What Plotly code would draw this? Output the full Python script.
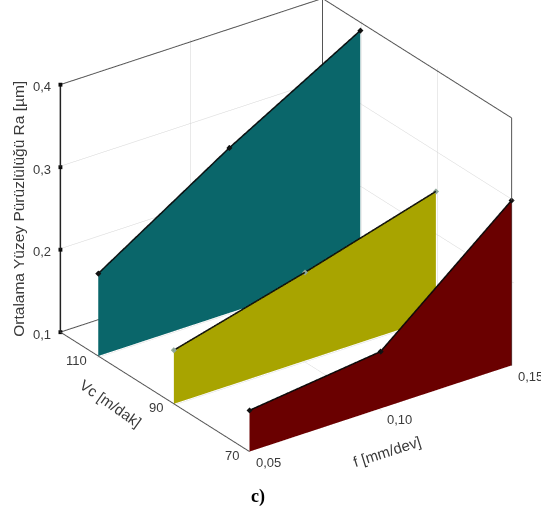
import plotly.graph_objects as go

f_vals = [0.05, 0.10, 0.15]
vc_vals = [110, 90, 70]
ra_110 = [0.20, 0.30, 0.39]
ra_90 = [0.165, 0.207, 0.253]
ra_70 = [0.15, 0.169, 0.30]
series_ra = [ra_110, ra_90, ra_70]
colors = ["#0a666a", "#a8a400", "#6a0000"]
marker_colors = ["#111111", "#8fa89a", "#111111"]

f_range = [0.05, 0.15]
vc_range = [70, 120]
ra_range = [0.1, 0.4]
f_ticks = [0.05, 0.10, 0.15]
f_ticktext = ["0,05", "0,10", "0,15"]
vc_ticks = [70, 90, 110]
vc_ticktext = ["70", "90", "110"]
ra_ticks = [0.1, 0.2, 0.3, 0.4]
ra_ticktext = ["0,1", "0,2", "0,3", "0,4"]
f_title = "f [mm/dev]"
vc_title = "Vc [m/dak]"
ra_title = "Ortalama Yüzey Pürüzlülüğü Ra [µm]"

fig = go.Figure()

for vc, ra, col, mc in zip(vc_vals, series_ra, colors, marker_colors):
    n = len(f_vals)
    xs = f_vals + f_vals
    ys = [vc] * (2 * n)
    zs = [ra_range[0]] * n + ra
    i, j, k = [], [], []
    for a in range(n - 1):
        i += [a, a]
        j += [a + 1, a + 1 + n]
        k += [a + 1 + n, a + n]
    fig.add_trace(go.Mesh3d(x=xs, y=ys, z=zs, i=i, j=j, k=k, color=col, flatshading=True,
                            lighting=dict(ambient=1, diffuse=0, specular=0, roughness=1, fresnel=0),
                            hoverinfo="skip", showscale=False))
    fig.add_trace(go.Scatter3d(x=f_vals, y=[vc] * n, z=ra, mode="lines+markers",
                               line=dict(color="#0a0a0a", width=3),
                               marker=dict(color=mc, size=2, symbol="diamond"),
                               hoverinfo="skip", showlegend=False))

# Box outline
x0, x1 = f_range
y0, y1 = vc_range
z0, z1 = ra_range
box_paths = [
    ([x0, x0, x1, x1, x1], [y0, y1, y1, y0, y0], [z0, z0, z0, z0, z0], "#555555", 2),
    ([x0, x1, x1], [y1, y1, y0], [z1, z1, z1], "#555555", 2),
    ([x1, x1], [y1, y1], [z0, z1], "#555555", 2),
    ([x1, x1], [y0, y0], [z0, z1], "#555555", 2),
    ([x0, x0], [y1, y1], [z0, z1], "#222222", 3),
]
for bx, by, bz, bc, bw in box_paths:
    fig.add_trace(go.Scatter3d(x=bx, y=by, z=bz, mode="lines",
                               line=dict(color=bc, width=bw),
                               hoverinfo="skip", showlegend=False))

# Black square tick marks on the Ra axis
fig.add_trace(go.Scatter3d(x=[x0] * len(ra_ticks), y=[y1] * len(ra_ticks), z=ra_ticks, mode="markers",
                           marker=dict(color="#0a0a0a", size=2, symbol="square"),
                           hoverinfo="skip", showlegend=False))

TXT = "#3a3a3a"
tickfont = dict(family="Liberation Sans", size=13, color=TXT)
titlefont = dict(family="Liberation Sans", size=15, color=TXT)
common = dict(showbackground=False, showspikes=False, zeroline=False, showline=False,
              gridcolor="#d4d4d4", gridwidth=1, showticklabels=False, title=dict(text=""), ticks="")

labels = []
for v, t in zip(f_ticks, f_ticktext):
    labels.append(dict(x=v, y=y0, z=z0, text=t, xshift=19, yshift=-11, font=tickfont,
                       xanchor="center", yanchor="middle", showarrow=False))
for v, t in zip(vc_ticks, vc_ticktext):
    labels.append(dict(x=x0, y=v, z=z0, text=t, xshift=-9, yshift=-4, font=tickfont,
                       xanchor="right", yanchor="middle", showarrow=False))
for v, t in zip(ra_ticks, ra_ticktext):
    labels.append(dict(x=x0, y=y1, z=v, text=t, xshift=-18, yshift=-2, font=tickfont,
                       xanchor="center", yanchor="middle", showarrow=False))
labels.append(dict(x=f_ticks[1], y=y0, z=z0, text=f_title, xshift=6, yshift=-43, textangle=-17.6,
                   font=titlefont, xanchor="center", yanchor="middle", showarrow=False))
labels.append(dict(x=x0, y=vc_ticks[1], z=z0, text=vc_title, xshift=-63, yshift=0, textangle=35,
                   font=titlefont, xanchor="center", yanchor="middle", showarrow=False))
labels.append(dict(x=x0, y=y1, z=(z0 + z1) / 2, text=ra_title, xshift=-42, yshift=0, textangle=-90,
                   font=dict(family="Liberation Sans", size=15.5, color=TXT),
                   xanchor="center", yanchor="middle", showarrow=False))

# Grid lines only at interior ticks, so they do not paint over the box edges
grid_f = [v for v in f_ticks if x0 < v < x1]
grid_vc = [v for v in vc_ticks if y0 < v < y1]
grid_ra = [v for v in ra_ticks if z0 < v < z1]

# The scene range is a hair wider than the box so that its edges are not clipped
PAD = 0.005
def padded(r):
    d = (r[1] - r[0]) * PAD
    return [r[0] - d, r[1] + d]

cx, cy, cz = -0.0821, -0.0108, -0.1108
fig.update_layout(
    width=541, height=514, margin=dict(l=0, r=0, t=0, b=0),
    paper_bgcolor="white", showlegend=False,
    scene=dict(
        domain=dict(x=[0, 1], y=[0, 1]),
        xaxis=dict(range=padded(f_range), tickvals=grid_f, **common),
        yaxis=dict(range=padded(vc_range), tickvals=grid_vc, **common),
        zaxis=dict(range=padded(ra_range), tickvals=grid_ra, **common),
        annotations=labels,
        aspectmode="manual",
        aspectratio=dict(x=1.2701, y=1.2701, z=1.0928),
        camera=dict(projection=dict(type="orthographic"),
                    eye=dict(x=cx - 0.521 * 2.5, y=cy - 0.722 * 2.5, z=cz + 0.456 * 2.5),
                    up=dict(x=0, y=0, z=1),
                    center=dict(x=cx, y=cy, z=cz)),
    ),
    annotations=[dict(text="<b>c)</b>", x=258 / 541, y=1 - 496 / 514, xref="paper", yref="paper",
                      xanchor="center", yanchor="middle", showarrow=False,
                      font=dict(family="Liberation Serif", size=18, color="black"))],
)
fig.write_html("out.html", config=dict(displayModeBar=False),
               post_script="document.body.style.margin='0';document.body.style.overflow='hidden';")
